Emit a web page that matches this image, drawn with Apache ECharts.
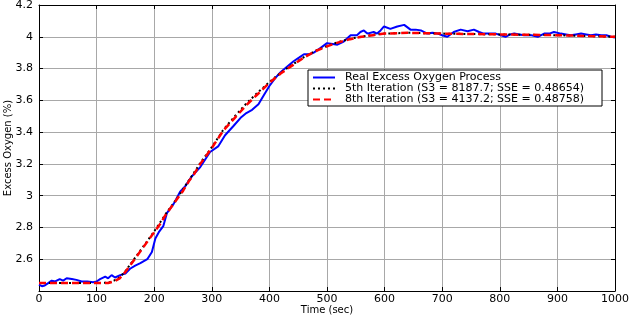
<!DOCTYPE html>
<html><head><meta charset="utf-8">
<script src="https://cdn.jsdelivr.net/npm/echarts@6/dist/echarts.min.js"></script>
<style>html,body{margin:0;padding:0;background:#fff}#c{width:630px;height:317px}</style>
</head><body><div id="c"></div>
<script>
const xTicks = [0,100,200,300,400,500,600,700,800,900,1000];
const yTicks = [2.6,2.8,3,3.2,3.4,3.6,3.8,4,4.2];
const seriesNames = ['Real Excess Oxygen Process','5th Iteration (S3 = 8187.7; SSE = 0.48654)','8th Iteration (S3 = 4137.2; SSE = 0.48758)'];

const realT = [0,5,10,16,22,28,36,42,48,57,65,74,84,94,100,106,115,120,126,132,141,150,158,167,176,188,196,202,208,216,222,228,234,245,254,265,280,297,311,323,338,350,360,370,381,390,400,410,419,430,442,452,460,470,477,489,500,510,518,529,541,552,558,564,570,581,587,593,599,610,622,634,645,654,663,674,683,692,700,709,720,732,744,755,764,772,784,793,802,810,818,825,834,842,855,866,877,886,894,906,915,923,932,941,950,958,967,976,985,993,1000];
const realV = [2.44,2.43,2.435,2.45,2.465,2.46,2.475,2.465,2.48,2.475,2.47,2.46,2.46,2.455,2.46,2.475,2.49,2.48,2.5,2.485,2.5,2.51,2.54,2.56,2.575,2.6,2.645,2.73,2.77,2.81,2.89,2.92,2.95,3.025,3.06,3.12,3.18,3.275,3.31,3.38,3.44,3.49,3.52,3.54,3.575,3.63,3.69,3.74,3.775,3.81,3.846,3.87,3.89,3.89,3.9,3.93,3.96,3.955,3.95,3.97,4.01,4.01,4.03,4.04,4.02,4.03,4.02,4.04,4.065,4.05,4.065,4.075,4.045,4.045,4.04,4.02,4.025,4.02,4.01,4.0,4.03,4.045,4.035,4.045,4.03,4.02,4.02,4.02,4.01,4.0,4.015,4.02,4.015,4.01,4.01,4.0,4.02,4.02,4.03,4.02,4.015,4.01,4.015,4.02,4.015,4.01,4.015,4.01,4.01,4.0,3.995];

const it5T = [0,50,100,120,130,140,150,160,170,180,190,200,210,220,230,240,250,260,270,280,290,300,320,340,360,380,400,420,440,460,480,500,520,540,560,580,600,640,700,800,900,1000];
const it5V = [2.45,2.45,2.45,2.452,2.465,2.485,2.525,2.575,2.625,2.675,2.725,2.775,2.83,2.885,2.935,2.985,3.04,3.095,3.15,3.205,3.255,3.305,3.415,3.5,3.58,3.65,3.715,3.775,3.825,3.872,3.912,3.942,3.967,3.987,4.002,4.012,4.02,4.025,4.02,4.015,4.01,4.0];

const it8T = [0,50,100,120,130,140,150,160,170,180,190,200,210,220,230,240,250,260,270,280,290,300,320,340,360,380,400,420,440,460,480,500,520,540,560,580,600,640,700,800,900,1000];
const it8V = [2.45,2.45,2.45,2.45,2.46,2.48,2.52,2.57,2.62,2.67,2.72,2.77,2.82,2.88,2.93,2.98,3.03,3.09,3.14,3.2,3.25,3.3,3.41,3.49,3.57,3.64,3.71,3.77,3.82,3.87,3.91,3.94,3.965,3.985,4.0,4.01,4.02,4.025,4.02,4.015,4.01,4.0];

const zip = (a,b) => a.map((t,i)=>[t,b[i]]);
const chart = echarts.init(document.getElementById('c'), null, {renderer:'canvas'});
const font = 'DejaVu Sans, sans-serif';
chart.setOption({
  animation:false,
  backgroundColor:'#fff',
  grid:{left:39,right:15,top:5,bottom:26,show:false,containLabel:false,outerBoundsMode:'none'},
  legend:{
    orient:'vertical', left:308, top:70,
    backgroundColor:'#fff', borderColor:'#000', borderWidth:1, borderRadius:0,
    padding:[2,18,1,4], itemGap:0, itemWidth:22, itemHeight:10,
    itemStyle:{opacity:0},
    textStyle:{fontFamily:font,fontSize:11,color:'#000',lineHeight:10,padding:[0,0,0,5]},
    data:seriesNames
  },
  xAxis:[{
    type:'value', min:0, max:1000, interval:100, position:'bottom',
    name:'Time (sec)', nameLocation:'middle', nameGap:14, nameMoveOverlap:false,
    nameTextStyle:{fontFamily:font,fontSize:10,color:'#000'},
    axisLine:{show:true,onZero:false,lineStyle:{color:'#000',width:1}},
    axisTick:{show:true,inside:true,length:4,lineStyle:{color:'#000'}},
    axisLabel:{fontFamily:font,fontSize:11,color:'#000',margin:3,formatter:v=>String(v)},
    splitLine:{show:true,lineStyle:{color:'#a8a8a8',width:1}}
  },{
    type:'value', min:0, max:1000, interval:100, position:'top',
    axisLine:{show:true,onZero:false,lineStyle:{color:'#000',width:1}},
    axisTick:{show:true,inside:true,length:4,lineStyle:{color:'#000'}},
    axisLabel:{show:false}, splitLine:{show:false}
  }],
  yAxis:[{
    type:'value', min:2.4, max:4.2, interval:0.2, position:'left',
    name:'Excess Oxygen (%)', nameLocation:'middle', nameGap:26, nameRotate:90, nameMoveOverlap:false,
    nameTextStyle:{fontFamily:font,fontSize:10,color:'#000'},
    axisLine:{show:true,onZero:false,lineStyle:{color:'#000',width:1}},
    axisTick:{show:true,inside:true,length:4,lineStyle:{color:'#000'}},
    axisLabel:{fontFamily:font,fontSize:11,color:'#000',margin:6,
      formatter:v=>{const r=Math.round(v*10)/10; return yTicks.some(t=>Math.abs(t-r)<1e-9)&&Math.abs(v-r)<1e-6 ? String(r) : '';}},
    splitLine:{show:true,lineStyle:{color:'#a8a8a8',width:1}}
  },{
    type:'value', min:2.4, max:4.2, interval:0.2, position:'right',
    axisLine:{show:true,onZero:false,lineStyle:{color:'#000',width:1}},
    axisTick:{show:true,inside:true,length:4,lineStyle:{color:'#000'}},
    axisLabel:{show:false}, splitLine:{show:false}
  }],
  series:[
    {name:seriesNames[0],type:'line',data:zip(realT,realV),showSymbol:false,symbol:'none',
     lineStyle:{color:'#0000ff',width:2},itemStyle:{color:'#0000ff'},z:2},
    {name:seriesNames[1],type:'line',data:zip(it5T,it5V),showSymbol:false,symbol:'none',
     lineStyle:{color:'#000',width:2,type:[2,3]},itemStyle:{color:'#000'},z:3},
    {name:seriesNames[2],type:'line',data:zip(it8T,it8V),showSymbol:false,symbol:'none',
     lineStyle:{color:'#ff0000',width:2.5,type:[7,4]},itemStyle:{color:'#ff0000'},z:4}
  ]
});
</script></body></html>
